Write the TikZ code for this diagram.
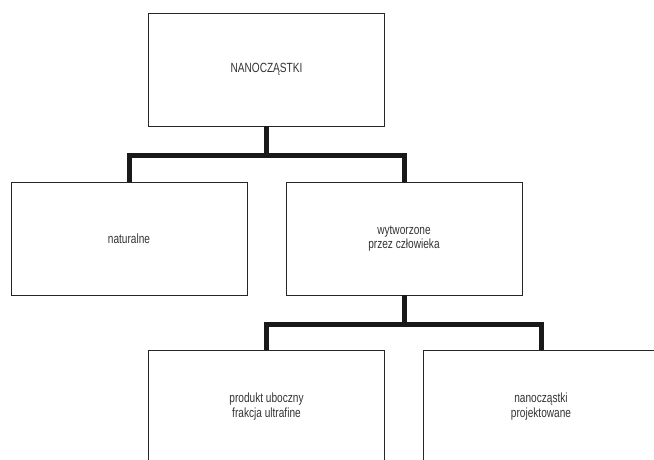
\documentclass[tikz,border=0pt]{standalone}
\usepackage{fontspec}
\setmainfont[FakeStretch=0.76]{Liberation Sans}
\begin{document}
\begin{tikzpicture}[x=1pt,y=-1pt,
  box/.style={draw=black!85,line width=0.9pt,minimum width=236pt,minimum height=113pt,inner sep=0pt,align=center,font=\fontsize{13.3}{14.5}\selectfont,text=black!80},
  conn/.style={draw=black!90,line width=5pt,line join=miter}]
\useasboundingbox (0,0) rectangle (654,459);
\clip (0,0) rectangle (654,459);
\node[box] (top) at (266.5,69.5) {NANOCZĄSTKI};
\node[box] (nat) at (129,238.5) {naturalne};
\node[box] (wyt) at (404,238.5) {wytworzone\\przez człowieka};
\node[box] (prod) at (266.5,406.5) {produkt uboczny\\frakcja ultrafine};
\node[box] (proj) at (541,406.5) {nanocząstki\\projektowane};
\draw[conn] (top.south) -- ++(0,30);
\draw[conn] (nat.north) -- ++(0,-26) -| (wyt.north);
\draw[conn] (wyt.south) -- ++(0,31);
\draw[conn] (prod.north) -- ++(0,-25) -| (proj.north);
\end{tikzpicture}
\end{document}
